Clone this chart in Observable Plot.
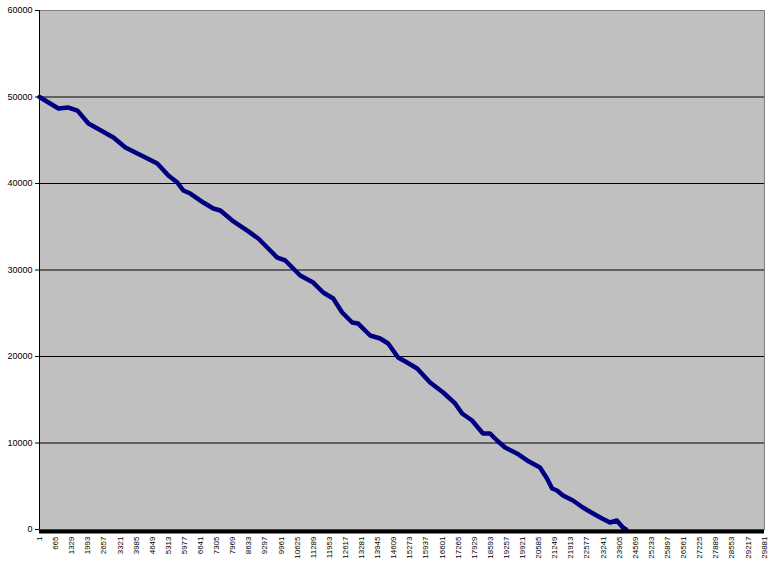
<!DOCTYPE html>
<html>
<head>
<meta charset="utf-8">
<script src="https://cdn.jsdelivr.net/npm/d3@7"></script>
<script src="https://cdn.jsdelivr.net/npm/@observablehq/plot@0.6"></script>
<style>
  html, body { margin: 0; padding: 0; background: #ffffff; }
  #chart svg { display: block; }
</style>
</head>
<body>
<div id="chart"></div>
<script>
// Category index (x) and value (y)
const xIndex = [1, 372, 784, 1196, 1567, 2020, 2390, 3050, 3544, 3956, 4368, 4860, 5316, 5687, 5934, 6222, 6758, 7170, 7458, 7953, 8570, 9024, 9394, 9807, 10136, 10466, 10754, 11290, 11702, 12113, 12484, 12896, 13144, 13638, 14050, 14380, 14790, 15160, 15575, 16110, 16650, 17140, 17430, 17840, 18290, 18580, 18870, 19200, 19690, 20110, 20640, 20930, 21140, 21340, 21590, 22000, 22410, 22830, 23200, 23530, 23810, 24060, 24190];
const values = [50000, 49360, 48670, 48780, 48430, 46930, 46360, 45320, 44160, 43580, 43000, 42310, 40920, 40110, 39190, 38840, 37800, 37110, 36880, 35720, 34560, 33640, 32600, 31440, 31100, 30170, 29360, 28550, 27400, 26700, 25090, 23930, 23810, 22430, 22080, 21500, 19880, 19300, 18610, 16990, 15840, 14570, 13410, 12600, 11100, 11100, 10290, 9480, 8790, 7980, 7170, 5900, 4740, 4510, 3930, 3350, 2540, 1850, 1270, 810, 1040, 230, 0];

// Tick labels
const xTicks = [1, 665, 1329, 1993, 2657, 3321, 3985, 4649, 5313, 5977, 6641, 7305, 7969, 8633, 9297, 9961, 10625, 11289, 11953, 12617, 13281, 13945, 14609, 15273, 15937, 16601, 17265, 17929, 18593, 19257, 19921, 20585, 21249, 21913, 22577, 23241, 23905, 24569, 25233, 25897, 26561, 27225, 27889, 28553, 29217, 29881];
const yTicks = [0, 10000, 20000, 30000, 40000, 50000, 60000];
const gridValues = [10000, 20000, 30000, 40000, 50000];
const xDomain = [1, 29900];
const yDomain = [0, 60000];

const data = xIndex.map((x, i) => ({x, y: values[i]}));

const chart = Plot.plot({
  width: 769,
  height: 566,
  marginLeft: 39,
  marginRight: 5,
  marginTop: 10,
  marginBottom: 37,
  style: {fontFamily: "'Liberation Sans', Arial, sans-serif", fontSize: "9px", color: "#000", background: "#fff"},
  x: {domain: xDomain, ticks: xTicks, tickFormat: d => String(d), label: null},
  y: {domain: yDomain, ticks: yTicks, tickFormat: d => String(d), label: null},
  marks: [
    Plot.frame({fill: "#c0c0c0", stroke: "#808080"}),
    Plot.ruleY(gridValues, {stroke: "#000", strokeWidth: 1}),
    Plot.ruleX([xDomain[0]], {stroke: "#000", strokeWidth: 1}),
    Plot.axisY({ticks: yTicks, tickSize: 4, tickPadding: 3, tickFormat: d => String(d), label: null, fontSize: 9}),
    Plot.axisX({ticks: xTicks, tickSize: 0, tickPadding: 7, tickRotate: -90, tickFormat: d => String(d), label: null, fontSize: 8}),
    Plot.line(data, {x: "x", y: "y", stroke: "#000080", strokeWidth: 4.5, strokeLinejoin: "round", strokeLinecap: "round"}),
    Plot.ruleY([0], {stroke: "#000", strokeWidth: 4, dy: 2})
  ]
});
document.getElementById("chart").appendChild(chart);
</script>
</body>
</html>
